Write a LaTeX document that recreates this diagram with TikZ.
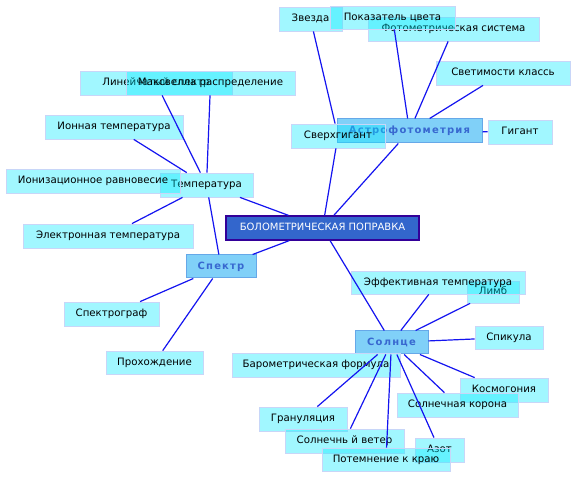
\documentclass[tikz,border=0pt]{standalone}
\usepackage{fontspec}
\setmainfont{DejaVu Sans}
\newfontfamily\hubfont[LetterSpace=12]{DejaVu Sans}
\definecolor{leaffill}{RGB}{0,236,255}
\definecolor{leafdraw}{RGB}{200,214,248}
\definecolor{hubfill}{RGB}{128,208,248}
\definecolor{hubdraw}{RGB}{102,168,232}
\definecolor{hubtext}{RGB}{56,104,208}
\definecolor{mainfill}{RGB}{51,102,204}
\definecolor{maindraw}{RGB}{51,0,153}
\definecolor{edgecol}{RGB}{20,20,240}
\tikzset{
  sz/.style 2 args={minimum width=#1pt, minimum height=#2pt},
  leaf/.style={draw=leafdraw, line width=0.8pt, fill=leaffill, fill opacity=0.37,
    text opacity=1, inner sep=0pt, text=black, font=\fontsize{10.2}{12}\selectfont,
    text height=7.5pt, text depth=2pt},
  hub/.style={draw=hubdraw, line width=1pt, fill=hubfill, inner sep=0pt,
    text=hubtext, font=\hubfont\bfseries\fontsize{10}{12}\selectfont,
    text height=7.5pt, text depth=2pt},
  mainbox/.style={draw=maindraw, line width=1.3pt, fill=mainfill, inner sep=0pt,
    text=white, font=\fontsize{10}{12}\selectfont, text height=7.5pt, text depth=2pt},
  edge/.style={draw=edgecol, line width=1.2pt}
}
\begin{document}
\begin{tikzpicture}[x=1pt,y=-1pt]
\useasboundingbox (0,0) rectangle (576,478);
\fill[white] (0,0) rectangle (576,478);
% hubs and centre
\node[mainbox, sz={193}{24}] (main) at (322.5,228) {БОЛОМЕТРИЧЕСКАЯ ПОПРАВКА};
\node[hub, sz={70}{23}] (spektr) at (221,266.5) {Спектр};
\node[hub, sz={73}{23}] (sun) at (391.5,342.5) {Солнце};
\node[hub, sz={145}{24}] (astro) at (409.5,131) {Астрофотометрия};
% leaves
\node[leaf, sz={93}{24}] (temp) at (206.5,185) {Температура};
\node[leaf, sz={152}{24}] (lin) at (156,83) {Линейчатый спектр};
\node[leaf, sz={169}{24}] (maks) at (210.5,83) {Максвелла распределение};
\node[leaf, sz={138}{24}] (ion) at (114,127) {Ионная температура};
\node[leaf, sz={174}{24}] (ioniz) at (93,181) {Ионизационное равновесие};
\node[leaf, sz={170}{24}] (elec) at (108,236) {Электронная температура};
\node[leaf, sz={95}{24}] (spgraf) at (111.5,314) {Спектрограф};
\node[leaf, sz={97}{23}] (prokh) at (154.5,362.5) {Прохождение};
\node[leaf, sz={63}{24}] (zvezda) at (310.5,19) {Звезда};
\node[leaf, sz={171}{24}] (foto) at (453.5,29) {Фотометрическая система};
\node[leaf, sz={125}{23}] (pokaz) at (392.5,17.5) {Показатель цвета};
\node[leaf, sz={134}{24}] (svet) at (503,73) {Светимости классь};
\node[leaf, sz={64}{24}] (gigant) at (520,132) {Гигант};
\node[leaf, sz={94}{24}] (sverkh) at (338,136) {Сверхгигант};
\node[leaf, sz={52}{22}] (limb) at (493,292) {Лимб};
\node[leaf, sz={174}{23}] (eff) at (438,282.5) {Эффективная температура};
\node[leaf, sz={68}{23}] (spik) at (509,337.5) {Спикула};
\node[leaf, sz={168}{24}] (baro) at (316,365) {Барометрическая формула};
\node[leaf, sz={88}{24}] (kosm) at (504,390) {Космогония};
\node[leaf, sz={121}{24}] (korona) at (457.5,405) {Солнечная корона};
\node[leaf, sz={88}{24}] (granul) at (303,419) {Грануляция};
\node[leaf, sz={119}{24}] (veter) at (344.5,441) {Солнечнь й ветер};
\node[leaf, sz={49}{24}] (azot) at (439.5,450) {Азот};
\node[leaf, sz={128}{23}] (potem) at (386,459.5) {Потемнение к краю};
% connectors
\draw[edge] (main) -- (temp);
\draw[edge] (main) -- (spektr);
\draw[edge] (main) -- (sun);
\draw[edge] (main) -- (astro);
\draw[edge] (main) -- (sverkh);
\draw[edge] (temp) -- (lin);
\draw[edge] (temp) -- (maks);
\draw[edge] (temp) -- (ion);
\draw[edge] (temp) -- (elec);
\draw[edge] (temp) -- (spektr);
\draw[edge] (spektr) -- (spgraf);
\draw[edge] (spektr) -- (prokh);
\draw[edge] (zvezda) -- (sverkh);
\draw[edge] (astro) -- (pokaz);
\draw[edge] (astro) -- (foto);
\draw[edge] (astro) -- (svet);
\draw[edge] (astro) -- (gigant);
\draw[edge] (sun) -- (eff);
\draw[edge] (sun) -- (limb);
\draw[edge] (sun) -- (spik);
\draw[edge] (sun) -- (kosm);
\draw[edge] (sun) -- (korona);
\draw[edge] (sun) -- (granul);
\draw[edge] (sun) -- (veter);
\draw[edge] (sun) -- (potem);
\draw[edge] (sun) -- (azot);
\end{tikzpicture}
\end{document}
